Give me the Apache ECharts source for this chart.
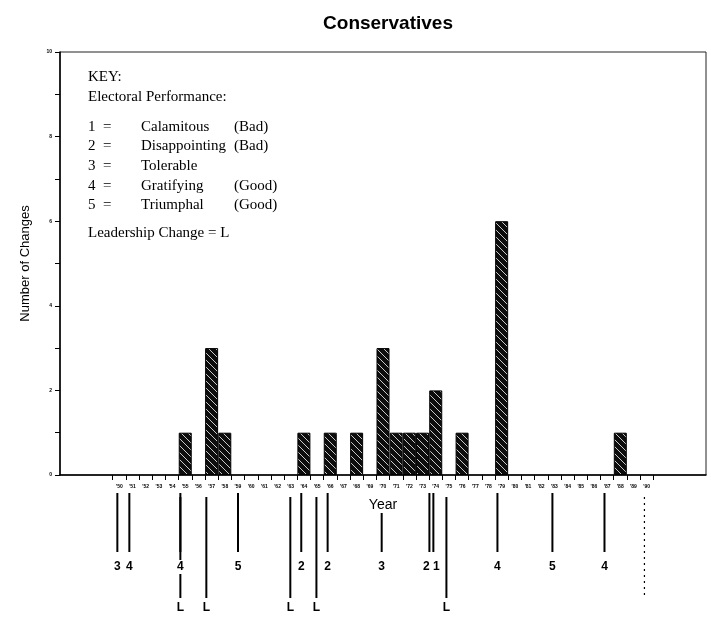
<!DOCTYPE html>
<html><head><meta charset="utf-8">
<script src="https://cdn.jsdelivr.net/npm/echarts@6/dist/echarts.min.js"></script>
<style>html,body{margin:0;padding:0;background:#fff}#c{width:711px;height:620px}</style>
</head><body><div id="c"></div>
<script>
// ---------- data ----------
const titleText = 'Conservatives';
const yAxisTitle = 'Number of Changes';
const xAxisTitle = 'Year';

const barYears  = [1955, 1957, 1958, 1964, 1966, 1968, 1970, 1971, 1972, 1973, 1974, 1976, 1979, 1988];
const barValues = [1,    3,    1,    1,    1,    1,    3,    1,    1,    1,    2,    1,    6,    1];

const yTickValues  = [0, 1, 2, 3, 4, 5, 6, 7, 8, 9, 10];
const yLabelValues = [0, 2, 4, 6, 8, 10];

const xLabelYears = [1950,1951,1952,1953,1954,1955,1956,1957,1958,1959,1960,1961,1962,1963,1964,1965,1966,1967,1968,1969,1970,
                     1971,1972,1973,1974,1975,1976,1977,1978,1979,1980,1981,1982,1983,1984,1985,1986,1987,1988,1989,1990];
const xLabelTexts = ["'50","'51","'52","'53","'54","'55","'56","'57","'58","'59","'60","'61","'62","'63","'64","'65","'66","'67","'68","'69","'70",
                     "'71","'72","'73","'74","'75","'76","'77","'78","'79","'80","'81","'82","'83","'84","'85","'86","'87","'88","'89","'90"];

// election dates (position on the year scale) and electoral performance code
const electionYears   = [1949.85, 1950.76, 1954.63, 1959.0, 1963.8, 1965.8, 1969.9, 1973.52, 1973.82, 1978.68, 1982.85, 1986.8];
const electionResults = [3,       4,       4,       5,      2,      2,      3,      2,       1,       4,       5,       4];

// leadership changes
const leadershipYears = [1954.63, 1956.6, 1962.97, 1964.95, 1974.81];
const pendingLeadershipYears = [1989.83];

// key
const keyHeading = 'KEY:';
const keySubheading = 'Electoral Performance:';
const keyCodes = ['1', '2', '3', '4', '5'];
const keyLabels = ['Calamitous', 'Disappointing', 'Tolerable', 'Gratifying', 'Triumphal'];
const keyVerdicts = ['(Bad)', '(Bad)', '', '(Good)', '(Good)'];
const keyLeadership = 'Leadership Change = L';

// ---------- styling ----------
const SANS = '"Liberation Sans", Arial, sans-serif';
const SERIF = '"Liberation Serif", "Times New Roman", serif';

function hatchPattern() {
  const s = 7;
  const c = document.createElement('canvas');
  c.width = s; c.height = s;
  const g = c.getContext('2d');
  g.fillStyle = '#0d0d0d';
  g.fillRect(0, 0, s, s);
  g.strokeStyle = 'rgba(235,235,235,0.85)';
  g.lineWidth = 1;
  g.beginPath();
  g.moveTo(0, 0); g.lineTo(s, s);
  g.moveTo(-2, s - 2); g.lineTo(2, s + 2);
  g.moveTo(s - 2, -2); g.lineTo(s + 2, 2);
  g.stroke();
  return c;
}

const chart = echarts.init(document.getElementById('c'), null, {renderer: 'canvas'});

const labelMap = {};
xLabelYears.forEach((y, i) => { labelMap[y] = xLabelTexts[i]; });
const xTickBounds = xLabelYears.map(y => y - 0.5).concat([xLabelYears[xLabelYears.length - 1] + 0.5]);

function renderElection(params, api) {
  const i = params.dataIndex;
  const year = api.value(0);
  const x = api.coord([year, 0])[0];
  const cs = params.coordSys;
  const base = cs.y + cs.height;
  const centerX = cs.x + cs.width / 2;
  const top = Math.abs(x - centerX) < 22 ? base + 38 : base + 18;
  let dx = 0;
  if (i + 1 < electionYears.length && electionYears[i + 1] - year < 0.5) dx = -3;
  if (i > 0 && year - electionYears[i - 1] < 0.5) dx = 3;
  return {
    type: 'group',
    children: [
      {type: 'line', shape: {x1: x, y1: top, x2: x, y2: base + 77}, style: {stroke: '#000', lineWidth: 2}},
      {type: 'text', z2: 10, style: {text: String(api.value(1)), x: x + dx, y: base + 92, align: 'center', verticalAlign: 'middle',
        font: 'bold 12px ' + SANS, fill: '#000', backgroundColor: '#fff', padding: [1, 0]}}
    ]
  };
}

function renderLeadership(params, api) {
  const x = api.coord([api.value(0), 0])[0];
  const cs = params.coordSys;
  const base = cs.y + cs.height;
  return {
    type: 'group',
    children: [
      {type: 'line', shape: {x1: x, y1: base + 22, x2: x, y2: base + 123}, style: {stroke: '#000', lineWidth: 2}},
      {type: 'text', style: {text: 'L', x: x, y: base + 133, align: 'center', verticalAlign: 'middle',
        font: 'bold 12px ' + SANS, fill: '#000'}}
    ]
  };
}

function renderPending(params, api) {
  const x = api.coord([api.value(0), 0])[0];
  const cs = params.coordSys;
  const base = cs.y + cs.height;
  return {type: 'line', shape: {x1: x, y1: base + 22, x2: x, y2: base + 122},
    style: {stroke: '#000', lineWidth: 1.2, lineDash: [2, 4]}};
}

const graphics = [];
const keyX = 88;
graphics.push({type: 'text', x: keyX, y: 77, style: {text: keyHeading, font: '15px ' + SERIF, fill: '#000', verticalAlign: 'middle'}});
graphics.push({type: 'text', x: keyX, y: 97, style: {text: keySubheading, font: '15px ' + SERIF, fill: '#000', verticalAlign: 'middle'}});
const rowYs = [127, 146, 166, 186, 205];
keyCodes.forEach((code, i) => {
  const y = rowYs[i];
  graphics.push({type: 'text', x: keyX, y: y, style: {text: code, font: '15px ' + SERIF, fill: '#000', verticalAlign: 'middle'}});
  graphics.push({type: 'text', x: keyX + 15, y: y, style: {text: '=', font: '15px ' + SERIF, fill: '#000', verticalAlign: 'middle'}});
  graphics.push({type: 'text', x: 141, y: y, style: {text: keyLabels[i], font: '15px ' + SERIF, fill: '#000', verticalAlign: 'middle'}});
  if (keyVerdicts[i]) graphics.push({type: 'text', x: 234, y: y, style: {text: keyVerdicts[i], font: '15px ' + SERIF, fill: '#000', verticalAlign: 'middle'}});
});
graphics.push({type: 'text', x: keyX, y: 233, style: {text: keyLeadership, font: '15px ' + SERIF, fill: '#000', verticalAlign: 'middle'}});

const option = {
  animation: false,
  backgroundColor: '#fff',
  title: {
    text: titleText, left: 383, top: 9, textAlign: 'center',
    textStyle: {fontFamily: SANS, fontWeight: 'bold', fontSize: 19, color: '#000'}
  },
  grid: {left: 60, right: 5, top: 52, bottom: 145, show: true, borderColor: '#222', borderWidth: 1, backgroundColor: 'transparent'},
  xAxis: {
    type: 'value', min: 1945.5, max: 1994.5,
    name: xAxisTitle, nameLocation: 'middle', nameGap: 23,
    nameTextStyle: {fontFamily: SANS, fontSize: 14, color: '#000'},
    axisLine: {show: true, lineStyle: {color: '#000', width: 1.5}},
    axisTick: {show: true, customValues: xTickBounds, length: 5, lineStyle: {color: '#000', width: 1}},
    axisLabel: {show: true, customValues: xLabelYears, formatter: v => labelMap[Math.round(v)] || '',
      fontFamily: SANS, fontSize: 5, fontWeight: 'bold', color: '#000', margin: 9},
    splitLine: {show: false}
  },
  yAxis: {
    type: 'value', min: 0, max: 10,
    name: yAxisTitle, nameLocation: 'middle', nameGap: 28, nameRotate: 90,
    nameTextStyle: {fontFamily: SANS, fontSize: 13, color: '#000'},
    axisLine: {show: true, lineStyle: {color: '#000', width: 1.5}},
    axisTick: {show: true, customValues: yTickValues, length: 5, lineStyle: {color: '#000', width: 1}},
    axisLabel: {show: true, customValues: yLabelValues, fontFamily: SANS, fontSize: 5, fontWeight: 'bold', color: '#000', margin: 8},
    splitLine: {show: false}
  },
  series: [
    {
      type: 'bar',
      data: barYears.map((y, i) => [y, barValues[i]]),
      barWidth: 13,
      itemStyle: {color: {image: hatchPattern(), repeat: 'repeat'}, borderColor: '#000', borderWidth: 1}
    },
    {type: 'custom', clip: false, silent: true, data: electionYears.map((y, i) => [y, 0, electionResults[i]]).map(d => [d[0], d[2]]),
      encode: {x: 0}, renderItem: renderElection, z: 5},
    {type: 'custom', clip: false, silent: true, data: leadershipYears.map(y => [y, 0]), encode: {x: 0}, renderItem: renderLeadership, z: 4},
    {type: 'custom', clip: false, silent: true, data: pendingLeadershipYears.map(y => [y, 0]), encode: {x: 0}, renderItem: renderPending, z: 4}
  ],
  graphic: graphics
};
chart.setOption(option);
</script>
</body></html>
